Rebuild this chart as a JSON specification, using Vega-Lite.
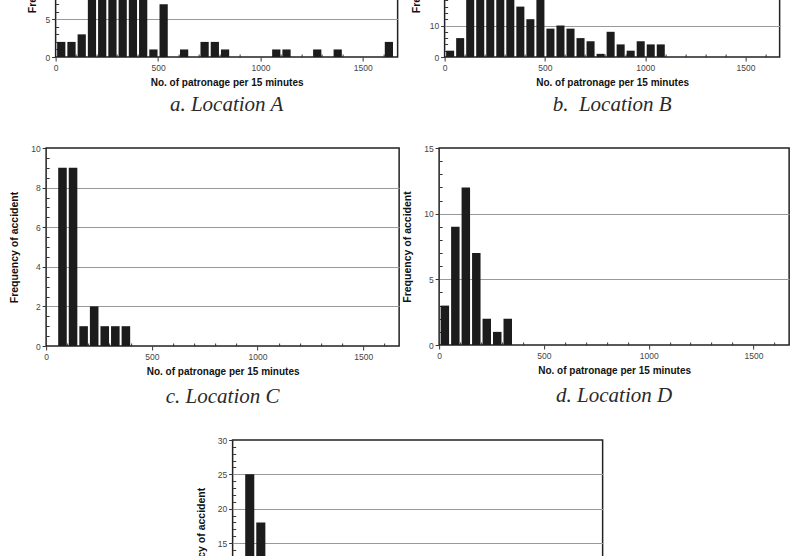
{
  "$schema": "https://vega.github.io/schema/vega-lite/v6.json",
  "background": "white",
  "padding": {"left": 8, "top": -144, "right": 0, "bottom": -152},
  "config": {
    "font": "Liberation Sans",
    "view": {"stroke": "#222", "strokeWidth": 1.5},
    "axis": {
      "domain": false,
      "labelFontSize": 8.5,
      "labelColor": "#444",
      "labelPadding": 2,
      "labelFlush": false,
      "labelOverlap": false,
      "titleFontSize": 10,
      "titleFontWeight": "bold",
      "titleColor": "#111",
      "tickColor": "#333",
      "tickWidth": 1,
      "gridColor": "#999",
      "gridWidth": 1,
      "format": "d"
    },
    "axisX": {"grid": false, "titlePadding": 6},
    "axisY": {"grid": true, "titleFontSize": 10.5, "titlePadding": 11},
    "title": {
      "orient": "bottom",
      "frame": "group",
      "anchor": "middle",
      "font": "Liberation Serif",
      "fontStyle": "italic",
      "fontWeight": "normal",
      "fontSize": 21,
      "color": "#2a2a2a",
      "offset": 9
    }
  },
  "datasets": {
    "A": [
      {"lo": 0, "hi": 50, "n": 2}, {"lo": 50, "hi": 100, "n": 2}, {"lo": 100, "hi": 150, "n": 3},
      {"lo": 150, "hi": 200, "n": 12}, {"lo": 200, "hi": 250, "n": 17}, {"lo": 250, "hi": 300, "n": 14},
      {"lo": 300, "hi": 350, "n": 11}, {"lo": 350, "hi": 400, "n": 16}, {"lo": 400, "hi": 450, "n": 9},
      {"lo": 450, "hi": 500, "n": 1}, {"lo": 500, "hi": 550, "n": 7}, {"lo": 600, "hi": 650, "n": 1},
      {"lo": 700, "hi": 750, "n": 2}, {"lo": 750, "hi": 800, "n": 2}, {"lo": 800, "hi": 850, "n": 1},
      {"lo": 1050, "hi": 1100, "n": 1}, {"lo": 1100, "hi": 1150, "n": 1}, {"lo": 1250, "hi": 1300, "n": 1},
      {"lo": 1350, "hi": 1400, "n": 1}, {"lo": 1600, "hi": 1650, "n": 2}
    ],
    "B": [
      {"lo": 0, "hi": 50, "n": 2}, {"lo": 50, "hi": 100, "n": 6}, {"lo": 100, "hi": 150, "n": 25},
      {"lo": 150, "hi": 200, "n": 38}, {"lo": 200, "hi": 250, "n": 45}, {"lo": 250, "hi": 300, "n": 40},
      {"lo": 300, "hi": 350, "n": 30}, {"lo": 350, "hi": 400, "n": 16}, {"lo": 400, "hi": 450, "n": 12},
      {"lo": 450, "hi": 500, "n": 22}, {"lo": 500, "hi": 550, "n": 9}, {"lo": 550, "hi": 600, "n": 10},
      {"lo": 600, "hi": 650, "n": 9}, {"lo": 650, "hi": 700, "n": 6}, {"lo": 700, "hi": 750, "n": 5},
      {"lo": 750, "hi": 800, "n": 1}, {"lo": 800, "hi": 850, "n": 8}, {"lo": 850, "hi": 900, "n": 4},
      {"lo": 900, "hi": 950, "n": 2}, {"lo": 950, "hi": 1000, "n": 5}, {"lo": 1000, "hi": 1050, "n": 4},
      {"lo": 1050, "hi": 1100, "n": 4}
    ],
    "C": [
      {"lo": 50, "hi": 100, "n": 9}, {"lo": 100, "hi": 150, "n": 9}, {"lo": 150, "hi": 200, "n": 1},
      {"lo": 200, "hi": 250, "n": 2}, {"lo": 250, "hi": 300, "n": 1}, {"lo": 300, "hi": 350, "n": 1},
      {"lo": 350, "hi": 400, "n": 1}
    ],
    "D": [
      {"lo": 0, "hi": 50, "n": 3}, {"lo": 50, "hi": 100, "n": 9}, {"lo": 100, "hi": 150, "n": 12},
      {"lo": 150, "hi": 200, "n": 7}, {"lo": 200, "hi": 250, "n": 2}, {"lo": 250, "hi": 300, "n": 1},
      {"lo": 300, "hi": 350, "n": 2}
    ],
    "E": [
      {"lo": 0, "hi": 50, "n": 6}, {"lo": 50, "hi": 100, "n": 25}, {"lo": 100, "hi": 150, "n": 18},
      {"lo": 150, "hi": 200, "n": 9}, {"lo": 200, "hi": 250, "n": 4}, {"lo": 250, "hi": 300, "n": 3},
      {"lo": 300, "hi": 350, "n": 2}, {"lo": 350, "hi": 400, "n": 1}
    ]
  },
  "spacing": 27,
  "center": true,
  "vconcat": [
    {
      "spacing": 11,
      "hconcat": [
        {
          "width": 342, "height": 200,
          "data": {"name": "A"},
          "title": {"text": "a. Location A", "offset": 6},
          "mark": {"type": "bar", "color": "#1c1c1c", "binSpacing": 2},
          "encoding": {
            "x": {"field": "lo", "type": "quantitative", "bin": "binned",
              "scale": {"domain": [0, 1670], "nice": false, "zero": false},
              "axis": {"title": "No. of patronage per 15 minutes",
                "values": [0,100,200,300,400,500,600,700,800,900,1000,1100,1200,1300,1400,1500,1600],
                "labelExpr": "datum.value % 500 === 0 ? datum.label : ''",
                "tickSize": {"condition": {"test": "datum.value % 500 === 0", "value": 4}, "value": -3}}},
            "x2": {"field": "hi"},
            "y": {"field": "n", "type": "quantitative",
              "scale": {"domain": [0, 26.5], "nice": false},
              "axis": {"title": "Frequency of accident", "titlePadding": 3,
                "values": [0,1,2,3,4,5,6,7,8,9,10,11,12,13,14,15,16,17,18,19,20,21,22,23,24,25,26],
                "labelExpr": "datum.value % 5 === 0 ? datum.label : ''",
                "gridOpacity": {"condition": {"test": "datum.value % 5 === 0 && datum.value > 0", "value": 1}, "value": 0},
                "tickSize": {"condition": {"test": "datum.value % 5 === 0", "value": 4}, "value": -3}}}
          }
        },
        {
          "width": 335, "height": 200,
          "data": {"name": "B"},
          "title": {"text": "b. \u00a0Location B", "offset": 6},
          "mark": {"type": "bar", "color": "#1c1c1c", "binSpacing": 2},
          "encoding": {
            "x": {"field": "lo", "type": "quantitative", "bin": "binned",
              "scale": {"domain": [0, 1670], "nice": false, "zero": false},
              "axis": {"title": "No. of patronage per 15 minutes",
                "values": [0,100,200,300,400,500,600,700,800,900,1000,1100,1200,1300,1400,1500,1600],
                "labelExpr": "datum.value % 500 === 0 ? datum.label : ''",
                "tickSize": {"condition": {"test": "datum.value % 500 === 0", "value": 4}, "value": -3}}},
            "x2": {"field": "hi"},
            "y": {"field": "n", "type": "quantitative",
              "scale": {"domain": [0, 63.5], "nice": false},
              "axis": {"title": "Frequency of accident", "titlePadding": 8,
                "values": [0,2,4,6,8,10,12,14,16,18,20,22,24,26,28,30,32,34,36,38,40,42,44,46,48,50,52,54,56,58,60,62],
                "labelExpr": "datum.value % 10 === 0 ? datum.label : ''",
                "gridOpacity": {"condition": {"test": "datum.value % 10 === 0 && datum.value > 0", "value": 1}, "value": 0},
                "tickSize": {"condition": {"test": "datum.value % 10 === 0", "value": 4}, "value": -3}}}
          }
        }
      ]
    },
    {
      "spacing": 1,
      "hconcat": [
        {
          "width": 353, "height": 198,
          "data": {"name": "C"},
          "title": "c. Location C",
          "mark": {"type": "bar", "color": "#1c1c1c", "binSpacing": 2},
          "encoding": {
            "x": {"field": "lo", "type": "quantitative", "bin": "binned",
              "scale": {"domain": [0, 1670], "nice": false, "zero": false},
              "axis": {"title": "No. of patronage per 15 minutes",
                "values": [0,100,200,300,400,500,600,700,800,900,1000,1100,1200,1300,1400,1500,1600],
                "labelExpr": "datum.value % 500 === 0 ? datum.label : ''",
                "tickSize": {"condition": {"test": "datum.value % 500 === 0", "value": 4}, "value": -3}}},
            "x2": {"field": "hi"},
            "y": {"field": "n", "type": "quantitative",
              "scale": {"domain": [0, 10], "nice": false},
              "axis": {"title": "Frequency of accident",
                "values": [0,0.5,1,1.5,2,2.5,3,3.5,4,4.5,5,5.5,6,6.5,7,7.5,8,8.5,9,9.5,10],
                "labelExpr": "datum.value % 2 === 0 ? datum.label : ''",
                "gridOpacity": {"condition": {"test": "datum.value % 2 === 0 && datum.value > 0 && datum.value < 10", "value": 1}, "value": 0},
                "tickSize": {"condition": {"test": "datum.value % 2 === 0", "value": 4}, "value": -3}}}
          }
        },
        {
          "width": 350, "height": 197,
          "data": {"name": "D"},
          "title": "d. Location D",
          "mark": {"type": "bar", "color": "#1c1c1c", "binSpacing": 2},
          "encoding": {
            "x": {"field": "lo", "type": "quantitative", "bin": "binned",
              "scale": {"domain": [0, 1670], "nice": false, "zero": false},
              "axis": {"title": "No. of patronage per 15 minutes",
                "values": [0,100,200,300,400,500,600,700,800,900,1000,1100,1200,1300,1400,1500,1600],
                "labelExpr": "datum.value % 500 === 0 ? datum.label : ''",
                "tickSize": {"condition": {"test": "datum.value % 500 === 0", "value": 4}, "value": -3}}},
            "x2": {"field": "hi"},
            "y": {"field": "n", "type": "quantitative",
              "scale": {"domain": [0, 15], "nice": false},
              "axis": {"title": "Frequency of accident",
                "values": [0,1,2,3,4,5,6,7,8,9,10,11,12,13,14,15],
                "labelExpr": "datum.value % 5 === 0 ? datum.label : ''",
                "gridOpacity": {"condition": {"test": "datum.value % 5 === 0 && datum.value > 0 && datum.value < 15", "value": 1}, "value": 0},
                "tickSize": {"condition": {"test": "datum.value % 5 === 0", "value": 4}, "value": -3}}}
          }
        }
      ]
    },
    {
      "width": 370, "height": 206,
      "data": {"name": "E"},
      "title": "e. Location E",
      "mark": {"type": "bar", "color": "#1c1c1c", "binSpacing": 2},
      "encoding": {
        "x": {"field": "lo", "type": "quantitative", "bin": "binned",
          "scale": {"domain": [0, 1670], "nice": false, "zero": false},
          "axis": {"title": "No. of patronage per 15 minutes",
            "values": [0,100,200,300,400,500,600,700,800,900,1000,1100,1200,1300,1400,1500,1600],
            "labelExpr": "datum.value % 500 === 0 ? datum.label : ''",
            "tickSize": {"condition": {"test": "datum.value % 500 === 0", "value": 4}, "value": -3}}},
        "x2": {"field": "hi"},
        "y": {"field": "n", "type": "quantitative",
          "scale": {"domain": [0, 30], "nice": false},
          "axis": {"title": "Frequency of accident",
            "values": [0,1,2,3,4,5,6,7,8,9,10,11,12,13,14,15,16,17,18,19,20,21,22,23,24,25,26,27,28,29,30],
            "labelExpr": "datum.value % 5 === 0 ? datum.label : ''",
            "gridOpacity": {"condition": {"test": "datum.value % 5 === 0 && datum.value > 0 && datum.value < 30", "value": 1}, "value": 0},
            "tickSize": {"condition": {"test": "datum.value % 5 === 0", "value": 4}, "value": -3}}}
      }
    }
  ]
}
